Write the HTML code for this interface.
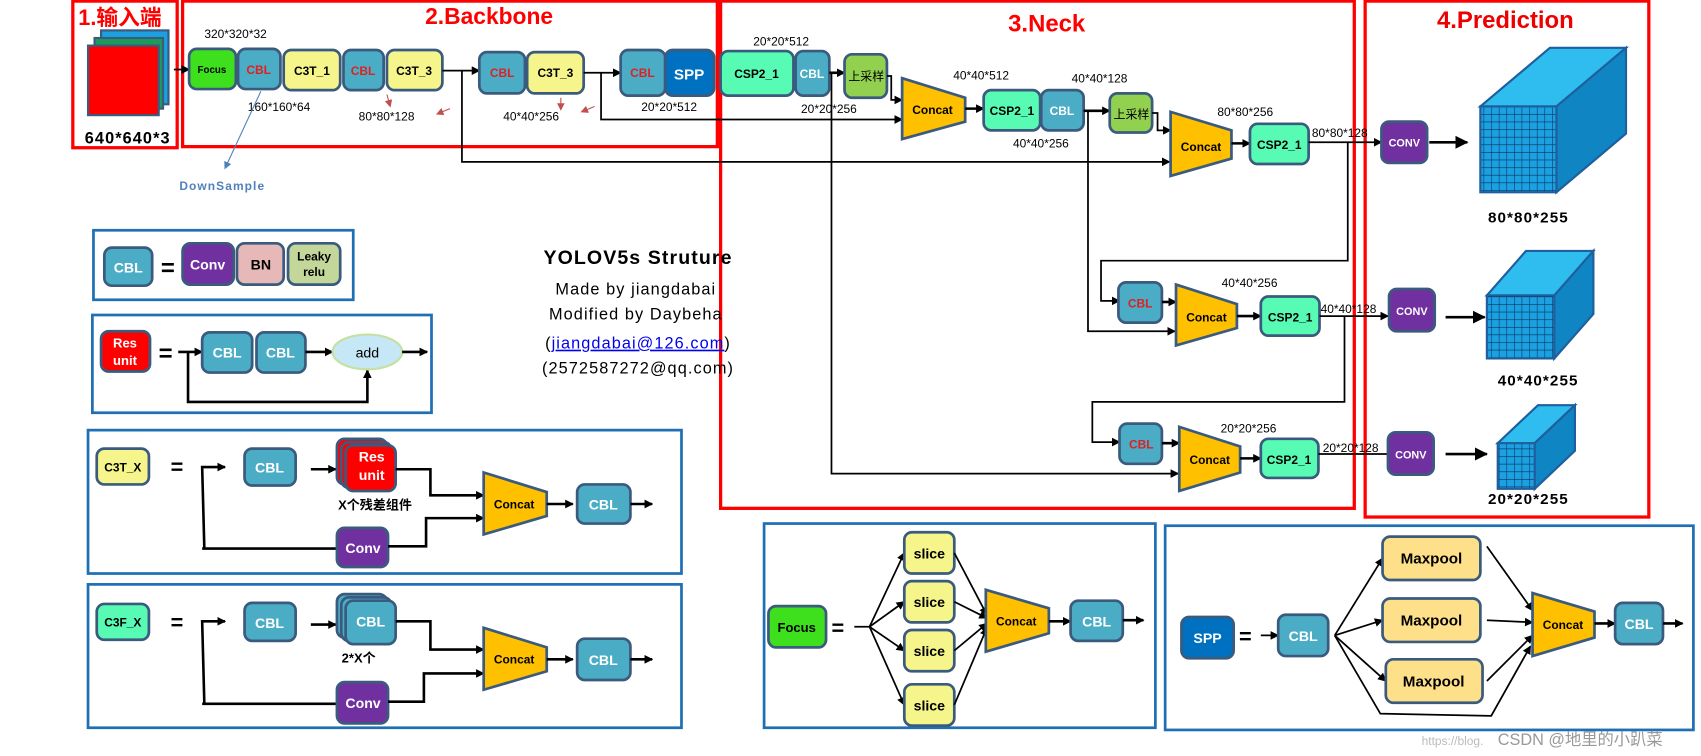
<!DOCTYPE html>
<html><head><meta charset="utf-8"><style>
html,body{margin:0;padding:0;background:#fff;width:1701px;height:756px;overflow:hidden}
svg{display:block}
text{font-family:"Liberation Sans","Noto Sans CJK SC",sans-serif}
.b{font-weight:bold}
.n{stroke:#3b5b7e;stroke-width:2.5}
.l{stroke:#000;stroke-width:1.6;fill:none}
.lb{stroke:#000;stroke-width:2.4;fill:none}
.sm{font-size:11px;fill:#000}
.red{fill:none;stroke:#f00;stroke-width:3}
.blu{fill:none;stroke:#1f6fb5;stroke-width:2.5}
</style></head><body>
<svg width="1701" height="756" viewBox="0 0 1565 696" preserveAspectRatio="none" xmlns="http://www.w3.org/2000/svg">
<defs>
<marker id="a" markerWidth="8" markerHeight="8" refX="7" refY="4" orient="auto" markerUnits="userSpaceOnUse"><path d="M0,0 L8,4 L0,8 z" fill="#000"/></marker>
<marker id="A" markerWidth="12" markerHeight="12" refX="11" refY="6" orient="auto" markerUnits="userSpaceOnUse"><path d="M0,0 L12,6 L0,12 z" fill="#000"/></marker>
<marker id="r" markerWidth="7" markerHeight="7" refX="6" refY="3.5" orient="auto" markerUnits="userSpaceOnUse"><path d="M0,0 L7,3.5 L0,7 z" fill="#c0504d"/></marker>
<marker id="bl" markerWidth="7" markerHeight="7" refX="6" refY="3.5" orient="auto" markerUnits="userSpaceOnUse"><path d="M0,0 L7,3.5 L0,7 z" fill="#4f81bd"/></marker>
<pattern id="g" width="7" height="7" patternUnits="userSpaceOnUse"><rect width="7" height="7" fill="#1ba1e2"/><path d="M0,0H7M0,0V7" stroke="#0b2e55" stroke-width="1"/></pattern>
</defs>

<rect class="red" x="67" y="1" width="96" height="135"/>
<rect class="red" x="168" y="1" width="492" height="134"/>
<rect class="red" x="663" y="1" width="583" height="467"/>
<rect class="red" x="1256" y="1" width="261" height="475"/>
<text x="72" y="23" font-size="20" fill="#f00" class="b">1.输入端</text>
<text x="450" y="22" font-size="21" fill="#f00" class="b" text-anchor="middle">2.Backbone</text>
<text x="963" y="29" font-size="22" fill="#f00" class="b" text-anchor="middle">3.Neck</text>
<text x="1385" y="26" font-size="22" fill="#e00" class="b" text-anchor="middle">4.Prediction</text>

<rect x="93" y="28" width="62" height="68" fill="#1ba1e2" stroke="#3b5b7e" stroke-width="2"/>
<rect x="87" y="35" width="63" height="65" fill="#1e9a5a" stroke="#3b5b7e" stroke-width="2"/>
<rect x="81" y="42" width="65" height="64" fill="#f00" stroke="#3b5b7e" stroke-width="2"/>
<text x="78" y="132" font-size="15" class="b" letter-spacing="1">640*640*3</text>
<line class="l" x1="160" y1="64" x2="174" y2="64" marker-end="url(#a)"/>

<rect class="n" x="174" y="45" width="43" height="37" rx="7" fill="#3ee01e"/><text x="195" y="67" font-size="9" class="b" text-anchor="middle">Focus</text>
<rect class="n" x="219" y="45" width="39" height="37" rx="7" fill="#4bacc6"/><text x="238" y="68" font-size="11" class="b" fill="#e02020" text-anchor="middle">CBL</text>
<rect class="n" x="261" y="46" width="52" height="37" rx="7" fill="#f5f58c"/><text x="287" y="69" font-size="11" class="b" text-anchor="middle">C3T_1</text>
<rect class="n" x="316" y="46" width="37" height="37" rx="7" fill="#4bacc6"/><text x="334" y="69" font-size="11" class="b" fill="#e02020" text-anchor="middle">CBL</text>
<rect class="n" x="356" y="46" width="51" height="37" rx="7" fill="#f5f58c"/><text x="381" y="69" font-size="11" class="b" text-anchor="middle">C3T_3</text>
<line class="l" x1="407" y1="65" x2="441" y2="65" marker-end="url(#a)"/>
<rect class="n" x="441" y="48" width="42" height="38" rx="7" fill="#4bacc6"/><text x="462" y="71" font-size="11" class="b" fill="#e02020" text-anchor="middle">CBL</text>
<rect class="n" x="485" y="48" width="52" height="38" rx="7" fill="#f5f58c"/><text x="511" y="71" font-size="11" class="b" text-anchor="middle">C3T_3</text>
<line class="l" x1="537" y1="67" x2="571" y2="67" marker-end="url(#a)"/>
<rect class="n" x="571" y="46" width="41" height="42" rx="7" fill="#4bacc6"/><text x="591" y="71" font-size="11" class="b" fill="#e02020" text-anchor="middle">CBL</text>
<rect class="n" x="612" y="46" width="45" height="42" rx="7" fill="#0070c0"/><text x="634" y="73" font-size="14" class="b" fill="#fff" text-anchor="middle">SPP</text>
<text x="188" y="35" class="sm">320*320*32</text>
<text x="228" y="102" class="sm">160*160*64</text>
<text x="330" y="111" class="sm">80*80*128</text>
<text x="463" y="111" class="sm">40*40*256</text>
<text x="590" y="102" class="sm">20*20*512</text>
<line x1="240" y1="84" x2="207" y2="155" stroke="#4f81bd" stroke-width="1" marker-end="url(#bl)"/>
<text x="165" y="175" font-size="11" fill="#4f81bd" class="b" letter-spacing="1">DownSample</text>
<line x1="356" y1="87" x2="359" y2="98" stroke="#c0504d" stroke-width="1" marker-end="url(#r)"/>
<line x1="414" y1="100" x2="402" y2="105" stroke="#c0504d" stroke-width="1" marker-end="url(#r)"/>
<line x1="516" y1="90" x2="516" y2="101" stroke="#c0504d" stroke-width="1" marker-end="url(#r)"/>
<line x1="547" y1="98" x2="535" y2="103" stroke="#c0504d" stroke-width="1" marker-end="url(#r)"/>

<polyline class="l" points="425,65 425,149 1076,149" marker-end="url(#a)"/>
<polyline class="l" points="553,67 553,110 830,110" marker-end="url(#a)"/>
<polyline class="l" points="765,67 765,436 1084,436" marker-end="url(#a)"/>

<rect class="n" x="663" y="47" width="67" height="41" rx="7" fill="#57fbb4"/><text x="696" y="72" font-size="11" class="b" text-anchor="middle">CSP2_1</text>
<rect class="n" x="732" y="47" width="31" height="41" rx="7" fill="#4bacc6"/><text x="747" y="72" font-size="11" class="b" fill="#fff" text-anchor="middle">CBL</text>
<text x="693" y="42" class="sm">20*20*512</text>
<line class="lb" x1="763" y1="67" x2="777" y2="67" marker-end="url(#a)"/>
<rect class="n" x="777" y="50" width="39" height="40" rx="7" fill="#92d050"/><text x="797" y="74" font-size="11" text-anchor="middle">上采样</text>
<polyline class="l" points="816,70 820,70 820,92 830,92" marker-end="url(#a)"/>
<path class="n" d="M830,72 L888,90 L888,112 L830,128 Z" fill="#ffc000"/><text x="858" y="105" font-size="11" class="b" text-anchor="middle">Concat</text>
<text x="737" y="104" class="sm">20*20*256</text>
<text x="877" y="73" class="sm">40*40*512</text>
<line class="lb" x1="888" y1="100" x2="905" y2="100" marker-end="url(#a)"/>
<rect class="n" x="905" y="83" width="52" height="37" rx="7" fill="#57fbb4"/><text x="931" y="106" font-size="11" class="b" text-anchor="middle">CSP2_1</text>
<rect class="n" x="958" y="83" width="39" height="37" rx="7" fill="#4bacc6"/><text x="977" y="106" font-size="11" class="b" fill="#fff" text-anchor="middle">CBL</text>
<text x="986" y="76" class="sm">40*40*128</text>
<text x="932" y="136" class="sm">40*40*256</text>
<line class="lb" x1="997" y1="102" x2="1021" y2="102" marker-end="url(#a)"/>
<polyline class="l" points="1001,102 1001,305 1081,305" marker-end="url(#a)"/>
<rect class="n" x="1021" y="86" width="39" height="36" rx="7" fill="#92d050"/><text x="1041" y="109" font-size="11" text-anchor="middle">上采样</text>
<polyline class="l" points="1060,104 1065,104 1065,120 1077,120" marker-end="url(#a)"/>
<path class="n" d="M1077,103 L1133,120 L1133,146 L1077,162 Z" fill="#ffc000"/><text x="1105" y="139" font-size="11" class="b" text-anchor="middle">Concat</text>
<text x="1120" y="107" class="sm">80*80*256</text>
<line class="lb" x1="1133" y1="132" x2="1150" y2="132" marker-end="url(#a)"/>
<rect class="n" x="1150" y="114" width="54" height="37" rx="7" fill="#57fbb4"/><text x="1177" y="137" font-size="11" class="b" text-anchor="middle">CSP2_1</text>
<text x="1207" y="126" class="sm">80*80*128</text>
<line class="l" x1="1204" y1="131" x2="1271" y2="131" marker-end="url(#a)"/>
<polyline class="l" points="1240,131 1240,240 1013,240 1013,277 1030,277" marker-end="url(#a)"/>

<rect class="n" x="1029" y="260" width="40" height="37" rx="7" fill="#4bacc6"/><text x="1049" y="283" font-size="11" class="b" fill="#e02020" text-anchor="middle">CBL</text>
<line class="lb" x1="1069" y1="278" x2="1082" y2="278" marker-end="url(#a)"/>
<path class="n" d="M1082,262 L1138,280 L1138,302 L1082,318 Z" fill="#ffc000"/><text x="1110" y="296" font-size="11" class="b" text-anchor="middle">Concat</text>
<text x="1124" y="264" class="sm">40*40*256</text>
<line class="lb" x1="1138" y1="291" x2="1160" y2="291" marker-end="url(#a)"/>
<rect class="n" x="1160" y="273" width="54" height="36" rx="7" fill="#57fbb4"/><text x="1187" y="296" font-size="11" class="b" text-anchor="middle">CSP2_1</text>
<text x="1215" y="288" class="sm">40*40*128</text>
<line class="l" x1="1214" y1="291" x2="1277" y2="291" marker-end="url(#a)"/>
<polyline class="l" points="1237,291 1237,370 1005,370 1005,407 1030,407" marker-end="url(#a)"/>

<rect class="n" x="1030" y="390" width="39" height="37" rx="7" fill="#4bacc6"/><text x="1050" y="413" font-size="11" class="b" fill="#e02020" text-anchor="middle">CBL</text>
<line class="lb" x1="1069" y1="408" x2="1085" y2="408" marker-end="url(#a)"/>
<path class="n" d="M1085,393 L1141,411 L1141,435 L1085,452 Z" fill="#ffc000"/><text x="1113" y="427" font-size="11" class="b" text-anchor="middle">Concat</text>
<text x="1123" y="398" class="sm">20*20*256</text>
<line class="lb" x1="1141" y1="422" x2="1160" y2="422" marker-end="url(#a)"/>
<rect class="n" x="1160" y="404" width="53" height="36" rx="7" fill="#57fbb4"/><text x="1186" y="427" font-size="11" class="b" text-anchor="middle">CSP2_1</text>
<text x="1217" y="416" class="sm">20*20*128</text>
<line class="l" x1="1213" y1="418" x2="1277" y2="418" stroke="#555"/>

<rect class="n" x="1271" y="112" width="42" height="38" rx="7" fill="#7030a0"/><text x="1292" y="135" font-size="10" class="b" fill="#fff" text-anchor="middle">CONV</text>
<rect class="n" x="1278" y="266" width="42" height="39" rx="7" fill="#7030a0"/><text x="1299" y="290" font-size="10" class="b" fill="#fff" text-anchor="middle">CONV</text>
<rect class="n" x="1277" y="398" width="42" height="39" rx="7" fill="#7030a0"/><text x="1298" y="422" font-size="10" class="b" fill="#fff" text-anchor="middle">CONV</text>
<line class="lb" x1="1315" y1="131" x2="1350" y2="131" marker-end="url(#A)"/>
<line class="lb" x1="1330" y1="292" x2="1366" y2="292" marker-end="url(#A)"/>
<line class="lb" x1="1330" y1="418" x2="1368" y2="418" marker-end="url(#A)"/>
<path d="M1362,98 L1432,98 L1496,44 L1426,44 Z" fill="#2fbdf0" stroke="#1f5f9e" stroke-width="2"/>
<path d="M1432,98 L1496,44 L1496,123 L1432,177 Z" fill="#0f86c3" stroke="#1f5f9e" stroke-width="2"/>
<rect x="1362" y="98" width="70" height="79" fill="url(#g)" stroke="#1f5f9e" stroke-width="2"/>
<path d="M1368,272 L1430,272 L1466,231 L1404,231 Z" fill="#2fbdf0" stroke="#1f5f9e" stroke-width="2"/>
<path d="M1430,272 L1466,231 L1466,289 L1430,330 Z" fill="#0f86c3" stroke="#1f5f9e" stroke-width="2"/>
<rect x="1368" y="272" width="62" height="58" fill="url(#g)" stroke="#1f5f9e" stroke-width="2"/>
<path d="M1378,408 L1412,408 L1449,373 L1415,373 Z" fill="#2fbdf0" stroke="#1f5f9e" stroke-width="2"/>
<path d="M1412,408 L1449,373 L1449,415 L1412,450 Z" fill="#0f86c3" stroke="#1f5f9e" stroke-width="2"/>
<rect x="1378" y="408" width="34" height="42" fill="url(#g)" stroke="#1f5f9e" stroke-width="2"/>
<text x="1369" y="205" font-size="14" class="b" letter-spacing="1">80*80*255</text>
<text x="1378" y="355" font-size="14" class="b" letter-spacing="1">40*40*255</text>
<text x="1369" y="464" font-size="14" class="b" letter-spacing="1">20*20*255</text>

<text x="587" y="243" font-size="18" class="b" text-anchor="middle" letter-spacing="1">YOLOV5s Struture</text>
<text x="585" y="271" font-size="15" text-anchor="middle" letter-spacing="1">Made by jiangdabai</text>
<text x="585" y="294" font-size="15" text-anchor="middle" letter-spacing="1">Modified by Daybeha</text>
<text x="587" y="321" font-size="15" text-anchor="middle" letter-spacing="1">(<tspan fill="#0000ee" text-decoration="underline">jiangdabai@126.com</tspan>)</text>
<text x="587" y="344" font-size="15" text-anchor="middle" letter-spacing="1">(2572587272@qq.com)</text>

<rect class="blu" x="86" y="212" width="239" height="64"/>
<rect class="n" x="96" y="228" width="44" height="35" rx="7" fill="#4bacc6"/><text x="118" y="251" font-size="13" class="b" fill="#fff" text-anchor="middle">CBL</text>
<text x="148" y="254" font-size="22" class="b">=</text>
<rect class="n" x="168" y="224" width="47" height="38" rx="7" fill="#7030a0"/><text x="191" y="248" font-size="13" class="b" fill="#fff" text-anchor="middle">Conv</text>
<rect class="n" x="218" y="224" width="43" height="38" rx="7" fill="#e6b9b8"/><text x="240" y="248" font-size="13" class="b" text-anchor="middle">BN</text>
<rect class="n" x="265" y="224" width="48" height="38" rx="7" fill="#c4d79b"/><text x="289" y="240" font-size="11" class="b" text-anchor="middle">Leaky</text><text x="289" y="254" font-size="11" class="b" text-anchor="middle">relu</text>

<rect class="blu" x="85" y="290" width="312" height="90"/>
<rect class="n" x="93" y="305" width="45" height="37" rx="7" fill="#f00"/><text x="115" y="320" font-size="12" class="b" fill="#fff" text-anchor="middle">Res</text><text x="115" y="336" font-size="12" class="b" fill="#fff" text-anchor="middle">unit</text>
<text x="146" y="333" font-size="22" class="b">=</text>
<line class="lb" x1="164" y1="324" x2="186" y2="324" marker-end="url(#a)"/>
<polyline class="lb" points="173,324 173,370 338,370 338,341" marker-end="url(#a)"/>
<rect class="n" x="186" y="306" width="46" height="37" rx="7" fill="#4bacc6"/><text x="209" y="329" font-size="13" class="b" fill="#fff" text-anchor="middle">CBL</text>
<rect class="n" x="236" y="306" width="45" height="37" rx="7" fill="#4bacc6"/><text x="258" y="329" font-size="13" class="b" fill="#fff" text-anchor="middle">CBL</text>
<line class="lb" x1="281" y1="324" x2="306" y2="324" marker-end="url(#a)"/>
<ellipse cx="338" cy="324" rx="32" ry="16" fill="#c6e7f5" stroke="#c5e0a0" stroke-width="2"/><text x="338" y="329" font-size="13" text-anchor="middle">add</text>
<line class="lb" x1="370" y1="324" x2="393" y2="324" marker-end="url(#a)"/>

<rect class="blu" x="81" y="396" width="546" height="132"/>
<rect class="n" x="89" y="413" width="48" height="33" rx="7" fill="#f5f58c"/><text x="113" y="434" font-size="11" class="b" text-anchor="middle">C3T_X</text>
<text x="157" y="437" font-size="20" class="b">=</text>
<polyline class="lb" points="188,505 186,430 207,430" marker-end="url(#a)"/>
<line class="lb" x1="186" y1="505" x2="310" y2="505"/>
<rect class="n" x="225" y="413" width="47" height="34" rx="7" fill="#4bacc6"/><text x="248" y="435" font-size="13" class="b" fill="#fff" text-anchor="middle">CBL</text>
<line class="lb" x1="286" y1="432" x2="309" y2="432" marker-end="url(#a)"/>
<rect class="n" x="310" y="404" width="46" height="42" rx="7" fill="#f00"/>
<rect class="n" x="314" y="407" width="46" height="42" rx="7" fill="#f00"/>
<rect class="n" x="318" y="410" width="46" height="42" rx="7" fill="#f00"/>
<text x="342" y="425" font-size="13" class="b" fill="#fff" text-anchor="middle">Res</text><text x="342" y="442" font-size="13" class="b" fill="#fff" text-anchor="middle">unit</text>
<text x="345" y="469" font-size="12" class="b" text-anchor="middle">X个残差组件</text>
<polyline class="lb" points="364,432 396,432 396,456 445,456" marker-end="url(#a)"/>
<rect class="n" x="310" y="486" width="47" height="36" rx="7" fill="#7030a0"/><text x="334" y="509" font-size="13" class="b" fill="#fff" text-anchor="middle">Conv</text>
<polyline class="lb" points="357,503 392,503 392,477 445,477" marker-end="url(#a)"/>
<path class="n" d="M445,435 L503,453 L503,475 L445,492 Z" fill="#ffc000"/><text x="473" y="468" font-size="11" class="b" text-anchor="middle">Concat</text>
<line class="lb" x1="503" y1="464" x2="527" y2="464" marker-end="url(#a)"/>
<rect class="n" x="531" y="446" width="49" height="36" rx="7" fill="#4bacc6"/><text x="555" y="469" font-size="13" class="b" fill="#fff" text-anchor="middle">CBL</text>
<line class="lb" x1="580" y1="464" x2="600" y2="464" marker-end="url(#a)"/>

<rect class="blu" x="81" y="538" width="546" height="132"/>
<rect class="n" x="89" y="556" width="48" height="33" rx="7" fill="#57fbb4"/><text x="113" y="577" font-size="11" class="b" text-anchor="middle">C3F_X</text>
<text x="157" y="580" font-size="20" class="b">=</text>
<polyline class="lb" points="188,648 186,572 207,572" marker-end="url(#a)"/>
<line class="lb" x1="186" y1="648" x2="310" y2="648"/>
<rect class="n" x="225" y="555" width="47" height="35" rx="7" fill="#4bacc6"/><text x="248" y="578" font-size="13" class="b" fill="#fff" text-anchor="middle">CBL</text>
<line class="lb" x1="286" y1="575" x2="309" y2="575" marker-end="url(#a)"/>
<rect class="n" x="310" y="547" width="46" height="40" rx="7" fill="#4bacc6"/>
<rect class="n" x="314" y="550" width="46" height="40" rx="7" fill="#4bacc6"/>
<rect class="n" x="318" y="553" width="46" height="40" rx="7" fill="#4bacc6"/>
<text x="341" y="577" font-size="13" class="b" fill="#fff" text-anchor="middle">CBL</text>
<text x="330" y="610" font-size="12" class="b" text-anchor="middle">2*X个</text>
<polyline class="lb" points="364,572 396,572 396,598 445,598" marker-end="url(#a)"/>
<rect class="n" x="310" y="628" width="47" height="38" rx="7" fill="#7030a0"/><text x="334" y="652" font-size="13" class="b" fill="#fff" text-anchor="middle">Conv</text>
<polyline class="lb" points="357,646 390,646 390,620 445,620" marker-end="url(#a)"/>
<path class="n" d="M445,578 L503,596 L503,618 L445,635 Z" fill="#ffc000"/><text x="473" y="611" font-size="11" class="b" text-anchor="middle">Concat</text>
<line class="lb" x1="503" y1="607" x2="527" y2="607" marker-end="url(#a)"/>
<rect class="n" x="531" y="588" width="49" height="38" rx="7" fill="#4bacc6"/><text x="555" y="612" font-size="13" class="b" fill="#fff" text-anchor="middle">CBL</text>
<line class="lb" x1="580" y1="607" x2="600" y2="607" marker-end="url(#a)"/>

<rect class="blu" x="703" y="482" width="360" height="188"/>
<rect class="n" x="707" y="558" width="53" height="38" rx="7" fill="#3ee01e"/><text x="733" y="582" font-size="12" class="b" text-anchor="middle">Focus</text>
<text x="765" y="585" font-size="20" class="b">=</text>
<line class="l" x1="786" y1="577" x2="800" y2="577"/>
<line class="l" x1="800" y1="577" x2="832" y2="509" marker-end="url(#a)"/>
<line class="l" x1="800" y1="577" x2="832" y2="554" marker-end="url(#a)"/>
<line class="l" x1="800" y1="577" x2="832" y2="599" marker-end="url(#a)"/>
<line class="l" x1="800" y1="577" x2="832" y2="649" marker-end="url(#a)"/>
<rect class="n" x="832" y="490" width="46" height="38" rx="7" fill="#f5f58c"/><text x="855" y="514" font-size="13" class="b" text-anchor="middle">slice</text>
<rect class="n" x="832" y="535" width="46" height="38" rx="7" fill="#f5f58c"/><text x="855" y="559" font-size="13" class="b" text-anchor="middle">slice</text>
<rect class="n" x="832" y="580" width="46" height="38" rx="7" fill="#f5f58c"/><text x="855" y="604" font-size="13" class="b" text-anchor="middle">slice</text>
<rect class="n" x="832" y="630" width="46" height="38" rx="7" fill="#f5f58c"/><text x="855" y="654" font-size="13" class="b" text-anchor="middle">slice</text>
<line class="l" x1="878" y1="509" x2="908" y2="566" marker-end="url(#a)"/>
<line class="l" x1="878" y1="554" x2="908" y2="569" marker-end="url(#a)"/>
<line class="l" x1="878" y1="599" x2="908" y2="574" marker-end="url(#a)"/>
<line class="l" x1="878" y1="649" x2="908" y2="578" marker-end="url(#a)"/>
<path class="n" d="M907,543 L965,560 L965,583 L907,600 Z" fill="#ffc000"/><text x="935" y="576" font-size="11" class="b" text-anchor="middle">Concat</text>
<line class="lb" x1="965" y1="572" x2="985" y2="572" marker-end="url(#a)"/>
<rect class="n" x="985" y="553" width="48" height="37" rx="7" fill="#4bacc6"/><text x="1009" y="577" font-size="13" class="b" fill="#fff" text-anchor="middle">CBL</text>
<line class="lb" x1="1033" y1="571" x2="1052" y2="571" marker-end="url(#a)"/>

<rect class="blu" x="1072" y="484" width="486" height="188"/>
<rect class="n" x="1087" y="568" width="48" height="38" rx="7" fill="#0070c0"/><text x="1111" y="592" font-size="13" class="b" fill="#fff" text-anchor="middle">SPP</text>
<text x="1140" y="593" font-size="20" class="b">=</text>
<line class="l" x1="1160" y1="585" x2="1176" y2="585" marker-end="url(#a)"/>
<rect class="n" x="1176" y="566" width="46" height="38" rx="7" fill="#4bacc6"/><text x="1199" y="590" font-size="13" class="b" fill="#fff" text-anchor="middle">CBL</text>
<line class="l" x1="1228" y1="585" x2="1272" y2="514" marker-end="url(#a)"/>
<line class="l" x1="1228" y1="585" x2="1272" y2="571" marker-end="url(#a)"/>
<line class="l" x1="1228" y1="585" x2="1275" y2="627" marker-end="url(#a)"/>
<polyline class="l" points="1228,585 1270,657 1372,659 1408,595" marker-end="url(#a)"/>
<rect class="n" x="1272" y="494" width="90" height="40" rx="7" fill="#ffe08a"/><text x="1317" y="519" font-size="14" class="b" text-anchor="middle">Maxpool</text>
<rect class="n" x="1272" y="551" width="90" height="40" rx="7" fill="#ffe08a"/><text x="1317" y="576" font-size="14" class="b" text-anchor="middle">Maxpool</text>
<rect class="n" x="1275" y="607" width="89" height="40" rx="7" fill="#ffe08a"/><text x="1319" y="632" font-size="14" class="b" text-anchor="middle">Maxpool</text>
<line class="l" x1="1368" y1="503" x2="1410" y2="562" marker-end="url(#a)"/>
<line class="l" x1="1368" y1="571" x2="1410" y2="573" marker-end="url(#a)"/>
<line class="l" x1="1368" y1="627" x2="1410" y2="585" marker-end="url(#a)"/>
<path class="n" d="M1410,546 L1467,563 L1467,587 L1410,604 Z" fill="#ffc000"/><text x="1438" y="579" font-size="11" class="b" text-anchor="middle">Concat</text>
<line class="lb" x1="1467" y1="574" x2="1486" y2="574" marker-end="url(#a)"/>
<rect class="n" x="1486" y="555" width="44" height="38" rx="7" fill="#4bacc6"/><text x="1508" y="579" font-size="13" class="b" fill="#fff" text-anchor="middle">CBL</text>
<line class="lb" x1="1530" y1="574" x2="1548" y2="574" marker-end="url(#a)"/>

<text x="1308" y="686" font-size="11" fill="#bbb">https://blog.</text>
<text x="1378" y="686" font-size="15" fill="#999">CSDN @地里的小趴菜</text>
</svg>
</body></html>
